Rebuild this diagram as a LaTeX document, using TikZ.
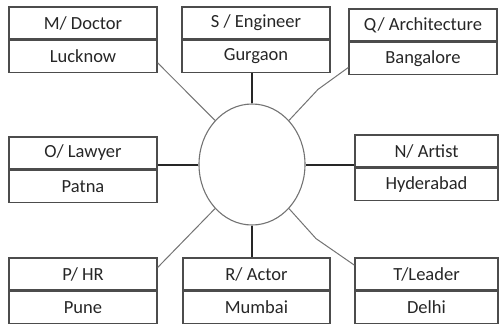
\documentclass[tikz,border=0pt]{standalone}
\usepackage{fontspec}
\setmainfont{Carlito}
\usetikzlibrary{positioning,shapes.geometric}
\begin{document}
\begin{tikzpicture}[x=1pt,y=-1pt,
    cell/.style={draw=black!70, line width=1.3pt, minimum width=148pt, minimum height=32pt,
        inner sep=0pt, text=black!85, font=\fontsize{18.5}{20}\selectfont},
    hubline/.style={line width=2pt, black!85},
    spoke/.style={line width=1pt, black!55}]
    \useasboundingbox (0,0) rectangle (499,325);

    % Centre
    \node[draw=black!55, line width=1.1pt, ellipse, minimum width=106pt, minimum height=121pt] (hub) at (252,164.5) {};

    % Top row
    \node[cell] (doc) at (83,23) {M/ Doctor};
    \node[cell, below=0pt of doc] (doc-c) {Lucknow};
    \node[cell] (eng) at (256,23) {S / Engineer};
    \node[cell, below=0pt of eng] (eng-c) {Gurgaon};
    \node[cell] (arch) at (423,25) {Q/ Architecture};
    \node[cell, below=0pt of arch] (arch-c) {Bangalore};

    % Middle row
    \node[cell] (law) at (83,153) {O/ Lawyer};
    \node[cell, below=0pt of law] (law-c) {Patna};
    \node[cell, minimum width=143pt] (art) at (426.5,151) {N/ Artist};
    \node[cell, minimum width=143pt, below=0pt of art] (art-c) {Hyderabad};

    % Bottom row
    \node[cell] (hr) at (83,274) {P/ HR};
    \node[cell, below=0pt of hr] (hr-c) {Pune};
    \node[cell, minimum width=147pt] (act) at (256.5,274) {R/ Actor};
    \node[cell, minimum width=147pt, below=0pt of act] (act-c) {Mumbai};
    \node[cell, minimum width=143pt] (lead) at (426.5,274) {T/Leader};
    \node[cell, minimum width=143pt, below=0pt of lead] (lead-c) {Delhi};

    % Straight links
    \draw[hubline] (hub.north) -- (hub.north |- eng-c.south);
    \draw[hubline] (hub.south) -- (hub.south |- act.north);
    \draw[hubline] (hub.west) -- (hub.west -| law-c.east);
    \draw[hubline] (hub.east) -- (hub.east -| art-c.west);

    % Diagonal links
    \draw[spoke] (hub.130) -- (doc-c.-5);
    \draw[spoke] (hub.50) -- ++(29,-31) -- (arch-c.187);
    \draw[spoke] (hub.230) -- (hr.5);
    \draw[spoke] (hub.-50) -- ++(27,30) -- (lead.173);
\end{tikzpicture}
\end{document}
